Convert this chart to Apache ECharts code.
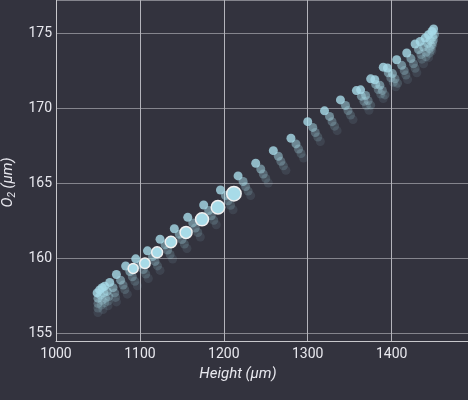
<!DOCTYPE html>
<html>
<head>
<meta charset="utf-8">
<script src="https://cdn.jsdelivr.net/npm/echarts@6/dist/echarts.min.js"></script>
<style>html,body{margin:0;padding:0;background:#33333e;}#c{width:468px;height:400px;}</style>
</head>
<body>
<div id="c"></div>
<script>
// Brightest frame (upper edge of the band)
const frameA = [[1049,157.7],[1052,157.9],[1055,158.05],[1058,158.15],[1064,158.4],[1072,158.93],[1083,159.49],[1095,159.97],[1109,160.5],[1124,161.27],[1141,161.97],[1157,162.73],[1176,163.55],[1196,164.55],[1217,165.49],[1238,166.33],[1259,167.17],[1280,168.0],[1300,169.1],[1320,169.82],[1339,170.55],[1358,171.17],[1363,171.22],[1375,171.95],[1380,171.89],[1390,172.73],[1395,172.67],[1406,173.22],[1418,173.67],[1428,174.27],[1434,174.44],[1440,174.67],[1444,174.89],[1448,175.11],[1450,175.27]];
const frameB = [[1050,157.35],[1053,157.55],[1057,157.7],[1061,157.8],[1068,158.05],[1077,158.55],[1088,159.12],[1101,159.6],[1115,160.12],[1130,160.9],[1147,161.6],[1163,162.36],[1182,163.18],[1202,164.18],[1223,165.12],[1244,165.95],[1265,166.8],[1286,167.62],[1306,168.72],[1326,169.45],[1345,170.18],[1364,170.8],[1369,170.85],[1381,171.58],[1386,171.52],[1396,172.36],[1401,172.3],[1412,172.85],[1423,173.3],[1432,173.9],[1438,174.07],[1443,174.3],[1446,174.52],[1449,174.74],[1451,174.9]];
const frameC = [[1050,157.0],[1055,157.2],[1059,157.35],[1063,157.45],[1070,157.7],[1080,158.22],[1091,158.78],[1104,159.26],[1118,159.8],[1133,160.56],[1150,161.26],[1166,162.02],[1185,162.84],[1205,163.84],[1226,164.78],[1247,165.62],[1268,166.46],[1289,167.28],[1309,168.38],[1329,169.1],[1348,169.84],[1367,170.46],[1372,170.5],[1384,171.24],[1389,171.18],[1399,172.02],[1404,171.96],[1415,172.5],[1426,172.96],[1435,173.56],[1441,173.72],[1445,173.96],[1447,174.18],[1449,174.4],[1450,174.56]];
const frameD = [[1050,156.7],[1054,156.9],[1058,157.05],[1062,157.15],[1071,157.4],[1082,157.92],[1094,158.48],[1107,158.96],[1121,159.5],[1136,160.26],[1153,160.96],[1169,161.72],[1188,162.54],[1208,163.54],[1229,164.48],[1250,165.32],[1271,166.16],[1292,166.98],[1312,168.08],[1332,168.8],[1351,169.54],[1370,170.16],[1375,170.2],[1387,170.94],[1392,170.88],[1402,171.72],[1407,171.66],[1417,172.2],[1428,172.66],[1436,173.26],[1441,173.42],[1445,173.66],[1447,173.88],[1448,174.1],[1449,174.26]];
const frameE = [[1050,156.4],[1056,156.6],[1062,156.85],[1072,157.1],[1085,157.62],[1097,158.18],[1110,158.66],[1124,159.2],[1139,159.96],[1156,160.66],[1172,161.42],[1191,162.24],[1211,163.24],[1232,164.18],[1253,165.02],[1274,165.86],[1295,166.68],[1315,167.78],[1335,168.5],[1354,169.24],[1373,169.86],[1390,170.64],[1405,171.42],[1419,171.9],[1430,172.36],[1438,172.96],[1444,173.36],[1448,173.8]];
// Highlighted frame (large, white-bordered)
const highlight = [[1092,159.33],[1106,159.67],[1120.5,160.4],[1137,161.09],[1155,161.73],[1174,162.6],[1193,163.4],[1212,164.31]];
const highlightSizes = [10,10.5,11,11.5,12,13,13.5,14.5];

const chart = echarts.init(document.getElementById('c'));
const base = '#a8dbe8';
function frame(data, op) {
  return {type:'scatter', data:data, symbolSize:9, silent:true,
    itemStyle:{color:base, opacity:op}};
}
chart.setOption({
  backgroundColor:'#33333e',
  animation:false,
  grid:{left:56, right:0, top:0, bottom:59, outerBoundsMode:'none', containLabel:false},
  xAxis:{type:'value', min:1000, max:1491,
    name:'Height (µm)', nameLocation:'middle', nameGap:26,
    nameTextStyle:{color:'#e8e8ee', fontFamily:'Roboto', fontSize:15, fontStyle:'italic', padding:[0,48,0,0]},
    axisLine:{lineStyle:{color:'#c8c8cc'}}, axisTick:{show:false},
    axisLabel:{color:'#e8e8ee', fontFamily:'Roboto', fontSize:14, margin:6, showMaxLabel:false,
      formatter:function(v){ return String(v); }},
    splitLine:{lineStyle:{color:'#b4b4bb'}}},
  yAxis:{type:'value', min:154.5, max:177.2,
    name:'{i|O}{s|2}{i| (µm)}', nameLocation:'middle', nameGap:38, nameRotate:90,
    nameTextStyle:{color:'#e8e8ee', fontFamily:'Roboto', fontSize:15, fontStyle:'italic', padding:[0,24,0,0],
      rich:{i:{color:'#e8e8ee', fontFamily:'Roboto', fontSize:15, fontStyle:'italic'},
            s:{color:'#e8e8ee', fontFamily:'Roboto', fontSize:10, fontStyle:'italic', padding:[8,0,0,0]}}},
    axisLine:{show:true, lineStyle:{color:'#c8c8cc'}}, axisTick:{show:false},
    axisLabel:{color:'#e8e8ee', fontFamily:'Roboto', fontSize:14, margin:4, showMinLabel:false, showMaxLabel:false,
      formatter:function(v){ return String(v); }},
    splitLine:{lineStyle:{color:'#85858d'}}},
  series:[
    frame(frameE, 0.1), frame(frameD, 0.18), frame(frameC, 0.3), frame(frameB, 0.5), frame(frameA, 0.8),
    {type:'scatter', data:highlight, silent:true,
      symbolSize:function(v, p){ return highlightSizes[p.dataIndex]; },
      itemStyle:{color:base, opacity:1, borderColor:'#f0f0f0', borderWidth:1.5}}
  ]
});
</script>
</body>
</html>
